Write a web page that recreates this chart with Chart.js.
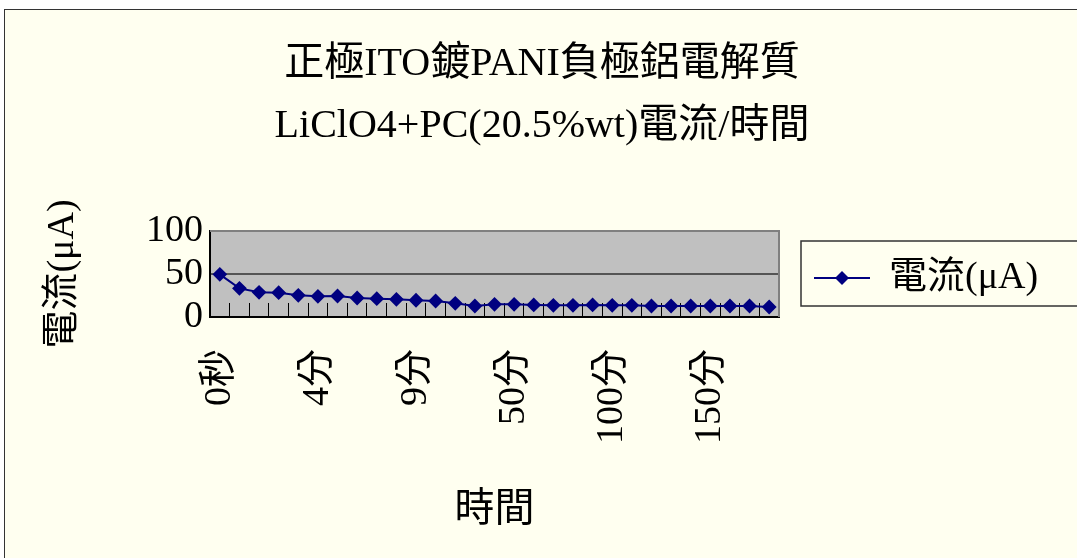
<!DOCTYPE html>
<html lang="zh-Hant">
<head>
  <meta charset="UTF-8">
  <title>電流/時間</title>
  <script src="https://cdn.jsdelivr.net/npm/chart.js"></script>
  <style>
    html, body { margin: 0; padding: 0; background: #fff; overflow: hidden; }
    #frame {
      position: absolute; left: 4px; top: 9px;
      width: 1100px; height: 560px;
      background: #FFFFF0;
      border-left: 1.5px solid #333; border-top: 1.5px solid #333;
    }
  </style>
</head>
<body>

<div id="frame"><canvas id="currentChart" width="1100" height="560"></canvas></div>

<script>
  // time points (category axis) and current readings in μA
  const timeLabels = ['0秒', '30秒', '1分', '2分', '3分', '4分', '5分', '6分', '7分', '8分',
    '9分', '10分', '20分', '30分', '40分', '50分', '60分', '70分', '80分', '90分',
    '100分', '110分', '120分', '130分', '140分', '150分', '160分', '170分', '180分'];
  const currentValues = [49.6, 33.3, 28.7, 28.3, 25.2, 24.0, 24.4, 22.1, 21.3, 20.5,
    19.5, 18.6, 15.9, 12.8, 14.7, 14.7, 14.0, 13.6, 13.6, 14.0,
    13.6, 13.6, 12.8, 12.8, 12.8, 12.8, 12.8, 12.8, 11.6];
  const yTicks = [0, 50, 100];

  const FONT = "'Liberation Serif', 'Noto Sans CJK TC', serif";
  const NAVY = '#000080';

  // legend marker: short line with a diamond on it (left margin keeps it off the box edge)
  const legendMark = document.createElement('canvas');
  legendMark.width = 79;
  legendMark.height = 16;
  (function () {
    const c = legendMark.getContext('2d');
    c.strokeStyle = NAVY;
    c.lineWidth = 2;
    c.beginPath(); c.moveTo(23, 8); c.lineTo(79, 8); c.stroke();
    c.fillStyle = NAVY;
    c.beginPath(); c.moveTo(51, 1); c.lineTo(58, 8); c.lineTo(51, 15); c.lineTo(44, 8); c.closePath(); c.fill();
  })();

  const plotBackground = {
    id: 'plotBackground',
    beforeDraw(chart) {
      const a = chart.chartArea, ctx = chart.ctx;
      ctx.save();
      ctx.fillStyle = '#C0C0C0';
      ctx.fillRect(a.left, a.top, a.right - a.left, a.bottom - a.top);
      ctx.restore();
    },
    beforeDatasetsDraw(chart) {
      const a = chart.chartArea, ctx = chart.ctx;
      ctx.save();
      ctx.strokeStyle = '#808080';
      ctx.lineWidth = 2;
      ctx.beginPath();
      ctx.moveTo(a.left, a.top); ctx.lineTo(a.right, a.top); ctx.lineTo(a.right, a.bottom);
      ctx.stroke();
      ctx.restore();
    }
  };

  const legendBorder = {
    id: 'legendBorder',
    afterDraw(chart) {
      const hb = chart.legend.legendHitBoxes[0];
      if (!hb) return;
      const ctx = chart.ctx;
      const cy = hb.top + hb.height / 2;
      ctx.save();
      ctx.strokeStyle = '#333';
      ctx.lineWidth = 1.5;
      ctx.strokeRect(hb.left + 10, cy - 37, chart.width, 65);
      ctx.restore();
    }
  };

  const ctx = document.getElementById('currentChart').getContext('2d');

  new Chart(ctx, {
    type: 'line',
    data: {
      labels: timeLabels,
      datasets: [{
        label: '電流(μA)',
        data: currentValues,
        borderColor: NAVY,
        backgroundColor: NAVY,
        borderWidth: 2,
        pointStyle: 'rectRot',
        pointRadius: 6,
        pointHoverRadius: 6,
        tension: 0,
        fill: false
      }]
    },
    plugins: [plotBackground, legendBorder],
    options: {
      responsive: false,
      animation: false,
      layout: { padding: { left: 35, right: 61, top: 0, bottom: 36 } },
      plugins: {
        title: {
          display: true,
          text: ['正極ITO鍍PANI負極鋁電解質', 'LiClO4+PC(20.5%wt)電流/時間'],
          color: '#000',
          font: { family: FONT, size: 40, weight: 'normal', lineHeight: 1.55 },
          padding: { top: 23, bottom: 74 }
        },
        legend: {
          position: 'right',
          maxWidth: 265,
          title: { display: true, text: '', font: { size: 1, lineHeight: 1 }, padding: { top: 11, bottom: 0 } },
          labels: {
            usePointStyle: true,
            pointStyle: legendMark,
            pointStyleWidth: 79,
            color: '#000',
            font: { family: FONT, size: 38 },
            padding: 12
          }
        },
        tooltip: { enabled: false }
      },
      scales: {
        x: {
          offset: true,
          grid: {
            offset: true,
            drawOnChartArea: false,
            drawTicks: true,
            tickLength: -14,
            color: '#000',
            lineWidth: 1
          },
          border: { color: '#000', width: 2 },
          ticks: {
            autoSkip: false,
            minRotation: 90,
            maxRotation: 90,
            padding: 46,
            color: '#000',
            font: { family: FONT, size: 38 },
            callback: (v, i) => (i % 5 === 0 ? timeLabels[i] : '')
          },
          title: {
            display: true,
            text: '時間',
            color: '#000',
            font: { family: FONT, size: 40 },
            padding: { top: -4, bottom: 0 }
          }
        },
        y: {
          min: 0,
          max: 100,
          afterBuildTicks: s => { s.ticks = yTicks.map(v => ({ value: v })); },
          grid: {
            drawTicks: false,
            lineWidth: 2,
            color: c => (c.tick && c.tick.value === 0 ? 'rgba(0,0,0,0)' : (c.tick && c.tick.value === 100 ? '#808080' : '#555'))
          },
          border: { color: '#000', width: 2 },
          ticks: {
            autoSkip: false,
            padding: 7,
            color: '#000',
            font: { family: FONT, size: 38 }
          },
          title: {
            display: true,
            text: '電流(μA)',
            color: '#000',
            font: { family: FONT, size: 38 },
            padding: 0
          },
          afterFit: s => { s.width = 170; }
        }
      }
    }
  });
</script>

</body>
</html>
